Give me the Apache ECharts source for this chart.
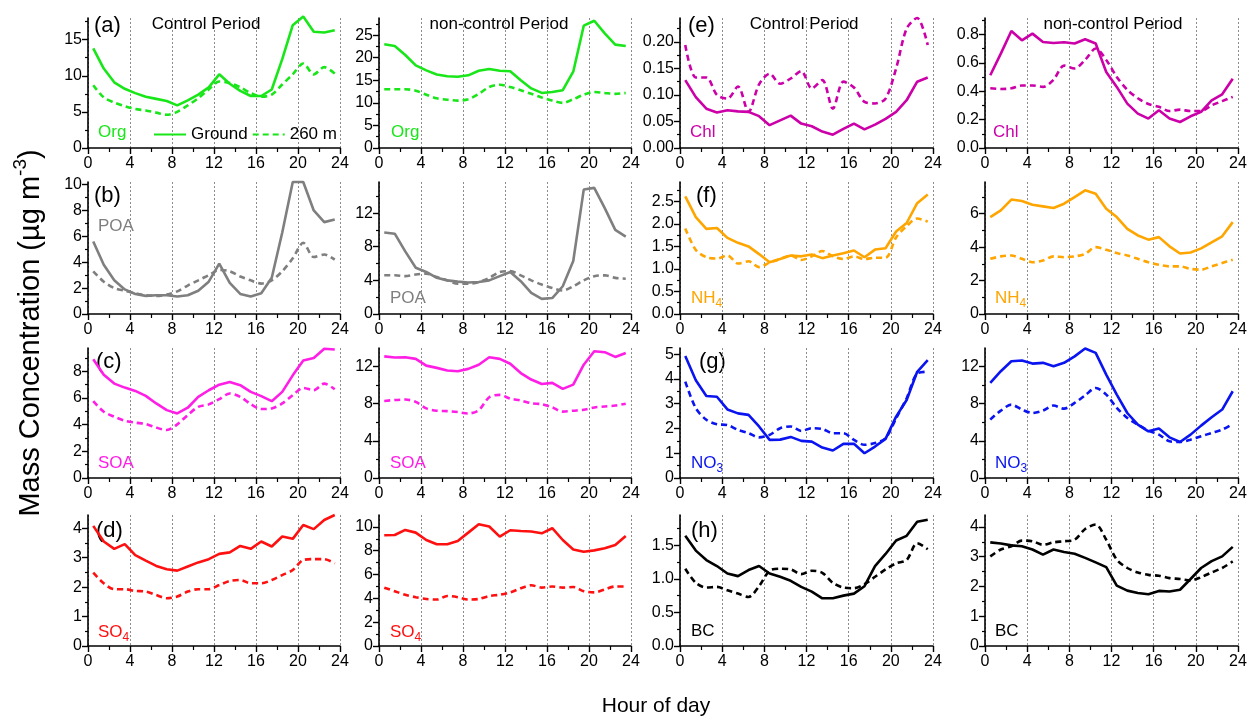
<!DOCTYPE html>
<html><head><meta charset="utf-8">
<script src="https://cdn.jsdelivr.net/npm/echarts@6/dist/echarts.min.js"></script>
<style>html,body{margin:0;padding:0;background:#fff}#c{width:1257px;height:723px}</style>
</head><body><div id="c"></div>
<script>
// ---------------- data ----------------
const hours = [0.5,1.5,2.5,3.5,4.5,5.5,6.5,7.5,8.5,9.5,10.5,11.5,12.5,13.5,14.5,15.5,16.5,17.5,18.5,19.5,20.5,21.5,22.5,23.5];
const xTicks = [0,4,8,12,16,20,24];

const orgCtrlGround = [13.8,11.0,9.1,8.2,7.6,7.1,6.8,6.5,5.9,6.6,7.4,8.4,10.2,8.9,7.9,7.2,7.2,8.1,12.3,17.0,18.2,16.1,16.0,16.3];
const orgCtrl260    = [8.7,7.0,6.3,5.8,5.4,5.2,4.9,4.6,5.0,5.9,6.9,8.1,9.2,9.0,8.4,7.6,7.1,7.4,8.8,10.2,11.7,10.2,11.2,10.3];
const orgNonGround  = [23.0,22.6,20.6,18.3,17.2,16.3,15.9,15.8,16.1,17.1,17.5,17.1,17.0,15.0,13.2,12.2,12.4,12.8,16.9,27.1,28.2,25.4,22.9,22.6];
const orgNon260     = [13.0,13.0,13.0,12.7,11.8,11.0,10.7,10.5,10.8,12.0,13.5,14.0,13.5,12.8,12.0,11.2,10.5,10.0,10.8,11.8,12.4,12.2,12.0,12.2];

const chlCtrlGround = [0.128,0.096,0.074,0.067,0.071,0.069,0.068,0.060,0.043,0.052,0.061,0.046,0.041,0.031,0.025,0.036,0.046,0.035,0.044,0.055,0.068,0.090,0.125,0.133];
const chlCtrl260    = [0.194,0.133,0.133,0.100,0.093,0.116,0.068,0.120,0.140,0.121,0.131,0.145,0.112,0.128,0.074,0.125,0.114,0.087,0.084,0.093,0.150,0.225,0.245,0.194];
const chlNonGround  = [0.512,0.664,0.824,0.758,0.805,0.746,0.739,0.744,0.735,0.765,0.735,0.535,0.430,0.312,0.242,0.207,0.265,0.207,0.183,0.223,0.254,0.336,0.378,0.488];
const chlNon260     = [0.42,0.415,0.42,0.44,0.44,0.43,0.48,0.58,0.56,0.62,0.70,0.62,0.50,0.41,0.35,0.31,0.29,0.26,0.27,0.26,0.26,0.30,0.33,0.36];

const poaCtrlGround = [5.6,3.8,2.6,1.9,1.55,1.4,1.45,1.45,1.35,1.45,1.8,2.5,3.9,2.4,1.55,1.35,1.6,2.8,6.3,10.2,10.2,8.0,7.1,7.3];
const poaCtrl260    = [3.3,2.5,2.0,1.8,1.6,1.45,1.4,1.5,1.75,2.2,2.6,3.0,3.4,3.3,2.9,2.6,2.35,2.6,3.3,4.3,5.5,4.4,4.6,4.2];
const poaNonGround  = [9.7,9.55,7.45,5.5,5.0,4.3,4.0,3.85,3.75,3.8,4.0,4.5,5.0,3.9,2.5,1.8,1.9,3.3,6.3,14.8,15.0,12.6,10.0,9.2];
const poaNon260     = [4.6,4.6,4.5,4.7,4.8,4.4,4.0,3.6,3.6,3.8,4.3,5.0,5.1,4.6,4.0,3.5,3.1,2.8,3.3,4.0,4.5,4.6,4.3,4.2];

const nh4CtrlGround = [2.61,2.15,1.89,1.91,1.69,1.58,1.50,1.33,1.15,1.22,1.30,1.28,1.32,1.24,1.30,1.35,1.41,1.26,1.43,1.46,1.83,2.02,2.46,2.65];
const nh4Ctrl260    = [1.90,1.42,1.26,1.23,1.30,1.12,1.17,1.04,1.14,1.22,1.30,1.20,1.28,1.40,1.28,1.22,1.28,1.22,1.25,1.25,1.70,1.95,2.12,2.05];
const nh4NonGround  = [5.8,6.2,6.85,6.76,6.54,6.44,6.34,6.6,7.0,7.4,7.2,6.3,5.8,5.1,4.7,4.45,4.6,4.05,3.62,3.68,3.93,4.29,4.65,5.5];
const nh4Non260     = [3.3,3.45,3.5,3.3,3.1,3.2,3.45,3.4,3.45,3.6,4.0,3.85,3.65,3.5,3.3,3.1,2.95,2.85,2.85,2.7,2.65,2.85,3.05,3.25];

const soaCtrlGround = [8.9,7.75,7.08,6.78,6.53,6.16,5.59,5.09,4.84,5.27,6.09,6.58,7.0,7.2,6.96,6.46,6.14,5.76,6.46,7.7,8.82,9.0,9.69,9.64];
const soaCtrl260    = [5.76,4.97,4.6,4.3,4.15,4.05,3.78,3.6,4.02,4.72,5.34,5.52,5.91,6.34,6.09,5.54,5.17,5.22,5.59,6.21,6.76,6.58,7.08,6.66];
const soaNonGround  = [13.1,12.97,13.0,12.83,12.1,11.86,11.57,11.5,11.75,12.2,13.0,12.83,12.3,11.3,10.6,10.13,10.24,9.6,10.06,12.2,13.65,13.55,13.04,13.47];
const soaNon260     = [8.3,8.4,8.45,8.2,7.5,7.25,7.2,7.1,6.95,7.3,8.7,8.95,8.55,8.35,8.05,7.95,7.6,7.15,7.25,7.35,7.6,7.7,7.8,8.0];

const no3CtrlGround = [4.93,3.95,3.31,3.28,2.77,2.61,2.55,2.08,1.54,1.55,1.66,1.5,1.47,1.23,1.11,1.38,1.38,1.0,1.27,1.58,2.48,3.15,4.29,4.76];
const no3Ctrl260    = [3.89,2.82,2.35,2.17,2.14,1.94,1.81,1.64,1.74,2.01,2.08,1.9,2.01,1.98,1.81,1.81,1.54,1.34,1.41,1.61,2.41,3.22,4.22,4.29];
const no3NonGround  = [10.24,11.5,12.58,12.65,12.32,12.4,12.04,12.4,13.1,13.94,13.47,11.14,8.98,7.0,5.75,5.03,5.32,4.38,3.88,4.67,5.64,6.54,7.37,9.34];
const no3Non260     = [6.29,7.26,7.9,7.37,7.0,7.26,7.8,7.47,8.08,8.9,9.7,8.98,7.55,6.47,5.75,5.1,4.67,3.95,3.88,4.13,4.49,4.85,5.21,5.82];

const so4CtrlGround = [4.08,3.55,3.3,3.46,3.09,2.9,2.72,2.61,2.56,2.7,2.84,2.95,3.13,3.18,3.4,3.3,3.55,3.38,3.72,3.64,4.11,3.97,4.28,4.45];
const so4Ctrl260    = [2.49,2.13,1.93,1.93,1.87,1.85,1.73,1.62,1.68,1.85,1.93,1.93,2.07,2.21,2.24,2.13,2.13,2.24,2.41,2.58,2.92,2.95,2.95,2.81];
const so4NonGround  = [9.3,9.32,9.75,9.52,8.9,8.54,8.54,8.82,9.52,10.23,10.03,9.18,9.72,9.66,9.61,9.46,9.89,8.9,8.11,7.92,8.03,8.2,8.48,9.24];
const so4Non260     = [4.9,4.6,4.3,4.1,3.95,3.9,4.2,4.1,3.9,3.95,4.2,4.3,4.5,4.85,5.1,4.9,5.0,4.9,4.95,4.6,4.5,4.75,5.0,5.0];

const bcCtrlGround  = [1.64,1.42,1.28,1.19,1.08,1.04,1.13,1.19,1.08,1.03,0.97,0.88,0.81,0.71,0.71,0.75,0.78,0.89,1.19,1.37,1.57,1.64,1.85,1.88];
const bcCtrl260     = [1.15,0.94,0.87,0.88,0.83,0.78,0.73,0.89,1.12,1.15,1.14,1.07,1.12,1.09,0.94,0.87,0.86,0.92,1.03,1.14,1.23,1.28,1.53,1.44];
const bcNonGround   = [3.48,3.44,3.38,3.35,3.24,3.07,3.24,3.16,3.1,2.96,2.81,2.65,2.03,1.86,1.78,1.74,1.85,1.83,1.89,2.25,2.62,2.85,3.01,3.33];
const bcNon260      = [3.01,3.24,3.35,3.54,3.52,3.4,3.48,3.52,3.57,3.93,4.08,3.57,2.9,2.62,2.47,2.39,2.36,2.28,2.25,2.2,2.31,2.47,2.62,2.84];

// y tick labels per panel
const yTicksOrgCtrl = [0,5,10,15];
const yTicksOrgNon  = [0,5,10,15,20,25];
const yTicksChlCtrl = [0,0.05,0.10,0.15,0.20];
const yTicksChlNon  = [0,0.2,0.4,0.6,0.8];
const yTicksPoaCtrl = [0,2,4,6,8,10];
const yTicksPoaNon  = [0,4,8,12];
const yTicksNh4Ctrl = [0,0.5,1.0,1.5,2.0,2.5];
const yTicksNh4Non  = [0,2,4,6];
const yTicksSoaCtrl = [0,2,4,6,8];
const yTicksSoaNon  = [0,4,8,12];
const yTicksNo3Ctrl = [0,1,2,3,4,5];
const yTicksNo3Non  = [0,4,8,12];
const yTicksSo4Ctrl = [0,1,2,3,4];
const yTicksSo4Non  = [0,2,4,6,8,10];
const yTicksBcCtrl  = [0,0.5,1.0,1.5];
const yTicksBcNon   = [0,1,2,3,4];

const seriesNames = ['Ground', '260 m'];
const periodTitles = ['Control Period', 'non-control Period', 'Control Period', 'non-control Period'];
const panelLetters = ['(a)','(b)','(c)','(d)','(e)','(f)','(g)','(h)'];

// ---------------- layout / style ----------------
const FONT = '"Liberation Sans", Arial, sans-serif';
const COL = {org:'#19e619', chl:'#cc00a8', poa:'#7f7f7f', nh4:'#ffa500', soa:'#ff1ee6', no3:'#0a14f0', so4:'#ff1010', bc:'#000000'};
const colLeft = [88, 379, 680, 985];
const colWidth = [252, 252, 253, 253];
const rowTop = [18, 182, 348, 515];
const rowHeight = [130, 132, 130, 131];

const panels = [
  {r:0,c:0,g:orgCtrlGround,a:orgCtrl260,col:COL.org,max:18,ticks:yTicksOrgCtrl,dec:0,label:[['Org']],lx:98,ly:132},
  {r:0,c:1,g:orgNonGround,a:orgNon260,col:COL.org,max:28.8,ticks:yTicksOrgNon,dec:0,label:[['Org']],lx:391,ly:132},
  {r:0,c:2,g:chlCtrlGround,a:chlCtrl260,col:COL.chl,max:0.245,ticks:yTicksChlCtrl,dec:2,label:[['Chl']],lx:690,ly:132},
  {r:0,c:3,g:chlNonGround,a:chlNon260,col:COL.chl,max:0.915,ticks:yTicksChlNon,dec:1,label:[['Chl']],lx:993,ly:132},
  {r:1,c:0,g:poaCtrlGround,a:poaCtrl260,col:COL.poa,max:10.2,ticks:yTicksPoaCtrl,dec:0,label:[['POA']],lx:98,ly:226},
  {r:1,c:1,g:poaNonGround,a:poaNon260,col:COL.poa,max:15.7,ticks:yTicksPoaNon,dec:0,label:[['POA']],lx:390,ly:298},
  {r:1,c:2,g:nh4CtrlGround,a:nh4Ctrl260,col:COL.nh4,max:2.93,ticks:yTicksNh4Ctrl,dec:1,label:[['NH'],['4',1]],lx:691,ly:298},
  {r:1,c:3,g:nh4NonGround,a:nh4Non260,col:COL.nh4,max:7.9,ticks:yTicksNh4Non,dec:0,label:[['NH'],['4',1]],lx:995,ly:298},
  {r:2,c:0,g:soaCtrlGround,a:soaCtrl260,col:COL.soa,max:9.75,ticks:yTicksSoaCtrl,dec:0,label:[['SOA']],lx:98,ly:463},
  {r:2,c:1,g:soaNonGround,a:soaNon260,col:COL.soa,max:14,ticks:yTicksSoaNon,dec:0,label:[['SOA']],lx:390,ly:463},
  {r:2,c:2,g:no3CtrlGround,a:no3Ctrl260,col:COL.no3,max:5.25,ticks:yTicksNo3Ctrl,dec:0,label:[['NO'],['3',1]],lx:691,ly:463},
  {r:2,c:3,g:no3NonGround,a:no3Non260,col:COL.no3,max:14,ticks:yTicksNo3Non,dec:0,label:[['NO'],['3',1]],lx:995,ly:463},
  {r:3,c:0,g:so4CtrlGround,a:so4Ctrl260,col:COL.so4,max:4.45,ticks:yTicksSo4Ctrl,dec:0,label:[['SO'],['4',1]],lx:98,ly:632},
  {r:3,c:1,g:so4NonGround,a:so4Non260,col:COL.so4,max:11,ticks:yTicksSo4Non,dec:0,label:[['SO'],['4',1]],lx:390,ly:632},
  {r:3,c:2,g:bcCtrlGround,a:bcCtrl260,col:COL.bc,max:1.95,ticks:yTicksBcCtrl,dec:1,label:[['BC']],lx:691,ly:631},
  {r:3,c:3,g:bcNonGround,a:bcNon260,col:COL.bc,max:4.4,ticks:yTicksBcNon,dec:0,label:[['BC']],lx:995,ly:631}
];

const TICK = 16, LBL = 17;
const axisLineStyle = {color:'#000', width:1.6};
const grids = [], xAxes = [], yAxes = [], yMinorAxes = [], series = [], graphics = [];

const mctx = document.createElement('canvas').getContext('2d');
function tw(t, s){ mctx.font = s + 'px ' + FONT; return mctx.measureText(t).width; }

// text made of pieces (normal + subscript/superscript)
function pieceText(x, y, pieces, color, base, opts) {
  opts = opts || {};
  const children = [];
  let total = 0;
  const items = pieces.map(p => {
    const sz = p[1] === 1 ? Math.round(base*0.72) : (p[1] === 2 ? Math.round(base*0.66) : base);
    const dy = p[1] === 1 ? base*0.32 : (p[1] === 2 ? -base*0.36 : 0);
    const w = tw(p[0], sz);
    const it = {t:p[0], sz, dy, off: total};
    total += w;
    return it;
  });
  const start = opts.center ? -total/2 : 0;
  items.forEach(it => children.push({
    type:'text', x: start + it.off, y: it.dy,
    style:{text:it.t, fill:color, fontSize:it.sz, fontFamily:FONT, align:'left', verticalAlign:'middle'}
  }));
  return {type:'group', x, y, rotation: opts.rotation || 0, children, silent:true};
}

panels.forEach((p, i) => {
  grids.push({left: colLeft[p.c], top: rowTop[p.r], width: colWidth[p.c], height: rowHeight[p.r], containLabel:false});
  xAxes.push({
    type:'value', gridIndex:i, min:0, max:24, interval:4,
    axisLine:{show:true, onZero:false, lineStyle:axisLineStyle},
    axisTick:{show:true, length:6, lineStyle:{color:'#000', width:1.4}},
    minorTick:{show:true, splitNumber:2, length:4, lineStyle:{color:'#000', width:1.2}},
    axisLabel:{show:true, color:'#000', fontSize:TICK, fontFamily:FONT, margin:8},
    splitLine:{show:true, lineStyle:{color:'#8c8c8c', width:1, type:[2,2]}}
  });
  const step = p.ticks[1] - p.ticks[0];
  yAxes.push({
    type:'value', gridIndex:i, min:0, max:p.max, interval:step,
    axisLine:{show:true, onZero:false, lineStyle:axisLineStyle},
    axisTick:{show:true, length:6, customValues:p.ticks, lineStyle:{color:'#000', width:1.4}},
    axisLabel:{show:true, customValues:p.ticks, color:'#000', fontSize:TICK, fontFamily:FONT, margin:6,
      formatter: v => Number(v).toFixed(p.dec)},
    splitLine:{show:false}
  });
  const minors = [];
  for (let k = 0; k < p.ticks.length; k++) {
    const m = p.ticks[k] + step/2;
    if (m < p.max) minors.push(m);
  }
  yMinorAxes.push({
    type:'value', gridIndex:i, position:'left', min:0, max:p.max, interval:step,
    axisLine:{show:false}, axisLabel:{show:false}, splitLine:{show:false},
    axisTick:{show:true, length:3, customValues:minors, lineStyle:{color:'#000', width:1.2}}
  });
  series.push({
    name: seriesNames[1], type:'line', xAxisIndex:i, yAxisIndex:i, data: hours.map((h,k)=>[h, p.a[k]]),
    showSymbol:false, symbol:'none', smooth:0.3, clip:false, color:p.col,
    lineStyle:{color:p.col, width:2.6, type:[6,4]}, z:2
  });
  series.push({
    name: seriesNames[0], type:'line', xAxisIndex:i, yAxisIndex:i, data: hours.map((h,k)=>[h, p.g[k]]),
    showSymbol:false, symbol:'none', smooth:false, clip:false, color:p.col,
    lineStyle:{color:p.col, width:2.6, type:'solid'}, z:3
  });
  graphics.push(pieceText(p.lx, p.ly, p.label, p.col, LBL));
});

// titles
const titleCenters = [[206,24],[499,24],[804,24],[1113,24]];
periodTitles.forEach((t, k) => graphics.push({
  type:'text', x:titleCenters[k][0], y:titleCenters[k][1], silent:true,
  style:{text:t, fill:'#000', fontSize:17, fontFamily:FONT, align:'center', verticalAlign:'middle'}
}));
// panel letters
const letterPos = [[94,26],[94,196],[96,362],[96,531],[688,26],[696,196],[699,362],[691,531]];
panelLetters.forEach((t, k) => graphics.push({
  type:'text', x:letterPos[k][0], y:letterPos[k][1], silent:true,
  style:{text:t, fill:'#000', fontSize:22, fontFamily:FONT, align:'left', verticalAlign:'middle'}
}));
// axis titles
graphics.push({type:'text', x:656, y:706, silent:true,
  style:{text:'Hour of day', fill:'#000', fontSize:21, fontFamily:FONT, align:'center', verticalAlign:'middle'}});
graphics.push(pieceText(31, 333, [['Mass Concentration (\u00b5g m'],['-3',2],[')']], '#000', 29, {center:true, rotation:Math.PI/2}));

const chart = echarts.init(document.getElementById('c'), null, {renderer:'canvas'});
chart.setOption({
  animation:false,
  backgroundColor:'#fff',
  grid:grids,
  xAxis:xAxes,
  yAxis:yAxes.concat(yMinorAxes),
  legend:{
    data:[{name:'Ground'},{name:'260 m'}],
    left:148, top:121, itemWidth:32, itemHeight:14, itemGap:4,
    selectedMode:false,
    itemStyle:{opacity:0},
    textStyle:{color:'#000', fontSize:LBL, fontFamily:FONT}
  },
  series:series,
  graphic:graphics
});
</script>
</body></html>
